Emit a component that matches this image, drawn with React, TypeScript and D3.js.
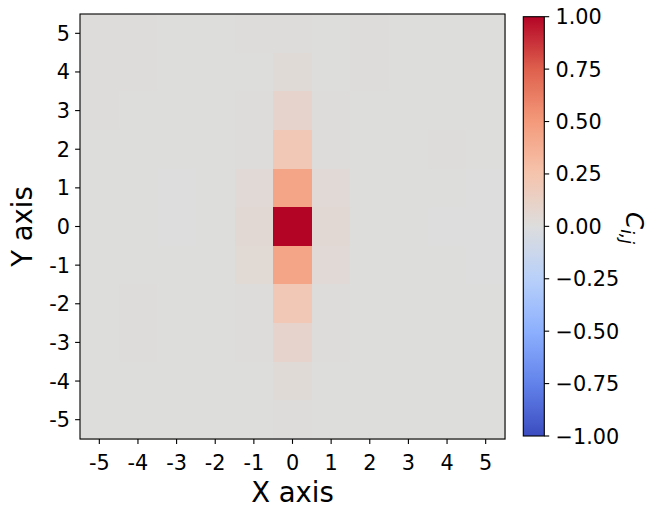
import React from "react";
import * as d3 from "d3";

// Grid coordinates
const xValues = [-5, -4, -3, -2, -1, 0, 1, 2, 3, 4, 5];
const yValues = [5, 4, 3, 2, 1, 0, -1, -2, -3, -4, -5]; // top row first
const xTickLabels = ["-5", "-4", "-3", "-2", "-1", "0", "1", "2", "3", "4", "5"];
const yTickLabels = ["5", "4", "3", "2", "1", "0", "-1", "-2", "-3", "-4", "-5"];

// Correlation values C_ij, one row per y (from y=5 down to y=-5), columns x=-5..5
const rowY5 = [0.015, 0.01, 0.005, 0.005, 0.01, 0.01, 0.005, 0.01, 0.005, 0.005, 0.005];
const rowY4 = [0.01, 0.01, 0.005, 0.005, 0.005, 0.035, 0.005, 0.01, 0.005, 0.005, 0.005];
const rowY3 = [0.01, 0.005, 0.005, 0.005, 0.01, 0.09, 0.01, 0.005, 0.005, 0.005, 0.005];
const rowY2 = [0.005, 0.005, 0.005, 0.005, 0.015, 0.21, 0.015, 0.005, 0.005, 0.015, 0.005];
const rowY1 = [0.005, 0.005, 0.0, 0.005, 0.04, 0.44, 0.04, 0.005, 0.005, 0.005, 0.0];
const rowY0 = [0.005, 0.005, 0.0, 0.005, 0.05, 1.0, 0.05, 0.005, 0.005, 0.0, 0.0];
const rowYm1 = [0.005, 0.005, 0.005, 0.005, 0.045, 0.44, 0.04, 0.005, 0.005, 0.005, 0.0];
const rowYm2 = [0.005, 0.015, 0.005, 0.005, 0.01, 0.21, 0.01, 0.005, 0.005, 0.005, 0.005];
const rowYm3 = [0.005, 0.015, 0.005, 0.005, 0.01, 0.09, 0.01, 0.005, 0.005, 0.005, 0.005];
const rowYm4 = [0.005, 0.005, 0.005, 0.005, 0.005, 0.035, 0.005, 0.005, 0.005, 0.005, 0.005];
const rowYm5 = [0.005, 0.005, 0.005, 0.005, 0.005, 0.01, 0.005, 0.005, 0.005, 0.005, 0.005];
const rows = [rowY5, rowY4, rowY3, rowY2, rowY1, rowY0, rowYm1, rowYm2, rowYm3, rowYm4, rowYm5];

const cbarTicks = [-1, -0.75, -0.5, -0.25, 0, 0.25, 0.5, 0.75, 1];

// coolwarm colormap anchors
const cmapPos = [0, 0.125, 0.25, 0.375, 0.5, 0.625, 0.75, 0.875, 1];
const cmapColors = [
  "rgb(59,76,192)",
  "rgb(98,130,234)",
  "rgb(141,176,254)",
  "rgb(184,208,249)",
  "rgb(221,221,221)",
  "rgb(245,196,173)",
  "rgb(244,154,123)",
  "rgb(222,96,77)",
  "rgb(180,4,38)",
];

const FONT = "'DejaVu Sans', sans-serif";

export default function App() {
  const W = 657;
  const H = 517;
  const left = 80, right = 505, top = 14, bottom = 439;

  const x = d3.scaleLinear().domain([-5.5, 5.5]).range([left, right]);
  const y = d3.scaleLinear().domain([-5.5, 5.5]).range([bottom, top]);

  const cmap = d3
    .scaleLinear<string>()
    .domain(cmapPos.map((p) => -1 + 2 * p))
    .range(cmapColors)
    .interpolate(d3.interpolateRgb)
    .clamp(true);

  const cbLeft = 523.3, cbRight = 544.3, cbTop = 16.7, cbBottom = 436;
  const cy = d3.scaleLinear().domain([-1, 1]).range([cbBottom, cbTop]);

  const gradStops = d3.range(0, 65).map((i) => i / 64);

  const fmt = (v: number) => {
    const s = Math.abs(v).toFixed(2);
    return v < 0 ? "\u2212" + s : s;
  };

  return (
    <svg
      width={W}
      height={H}
      style={{ position: "absolute", left: 0, top: 0, background: "#fff" }}
      fontFamily={FONT}
    >
      <defs>
        <linearGradient id="cbgrad" x1="0" y1="1" x2="0" y2="0">
          {gradStops.map((t) => (
            <stop key={t} offset={t} stopColor={cmap(-1 + 2 * t)} />
          ))}
        </linearGradient>
      </defs>

      {/* heatmap cells */}
      <g shapeRendering="crispEdges">
        {rows.map((row, ri) =>
          row.map((v, ci) => {
            const xv = xValues[ci];
            const yv = yValues[ri];
            const x0 = x(xv - 0.5);
            const x1 = x(xv + 0.5);
            const y0 = y(yv + 0.5);
            const y1 = y(yv - 0.5);
            return (
              <rect
                key={`${ri}-${ci}`}
                x={x0}
                y={y0}
                width={x1 - x0 + 0.5}
                height={y1 - y0 + 0.5}
                fill={cmap(v)}
              />
            );
          })
        )}
      </g>

      {/* frame */}
      <rect
        x={left}
        y={top}
        width={right - left}
        height={bottom - top}
        fill="none"
        stroke="#000"
        strokeWidth={1.1}
      />

      {/* x ticks */}
      {xValues.map((v, i) => (
        <g key={`xt${v}`}>
          <line x1={x(v)} x2={x(v)} y1={bottom} y2={bottom + 4.9} stroke="#000" strokeWidth={1.1} />
          <text x={x(v)} y={469.5} fontSize={20.8} textAnchor="middle" fill="#000">
            {xTickLabels[i]}
          </text>
        </g>
      ))}

      {/* y ticks */}
      {yValues.map((v, i) => (
        <g key={`yt${v}`}>
          <line x1={left - 4.9} x2={left} y1={y(v)} y2={y(v)} stroke="#000" strokeWidth={1.1} />
          <text x={70} y={y(v) + 7.5} fontSize={20.8} textAnchor="end" fill="#000">
            {yTickLabels[i]}
          </text>
        </g>
      ))}

      {/* axis labels */}
      <text x={(left + right) / 2} y={502} fontSize={27.5} textAnchor="middle" fill="#000">
        X axis
      </text>
      <text
        transform={`translate(31.5, ${(top + bottom) / 2}) rotate(-90)`}
        fontSize={27.5}
        textAnchor="middle"
        fill="#000"
      >
        Y axis
      </text>

      {/* colorbar */}
      <rect
        x={cbLeft}
        y={cbTop}
        width={cbRight - cbLeft}
        height={cbBottom - cbTop}
        fill="url(#cbgrad)"
        stroke="#000"
        strokeWidth={1.1}
      />
      {cbarTicks.map((t) => (
        <g key={`cb${t}`}>
          <line x1={cbRight} x2={cbRight + 4.9} y1={cy(t)} y2={cy(t)} stroke="#000" strokeWidth={1.1} />
          <text x={555.5} y={cy(t) + 7.5} fontSize={20.8} textAnchor="start" fill="#000">
            {fmt(t)}
          </text>
        </g>
      ))}

      {/* colorbar label */}
      <text
        transform={`translate(625.5, 228) rotate(90)`}
        fontSize={24.5}
        textAnchor="middle"
        fill="#000"
        fontStyle="italic"
      >
        C
        <tspan fontSize={17} dy={5}>
          i,j
        </tspan>
      </text>
    </svg>
  );
}
